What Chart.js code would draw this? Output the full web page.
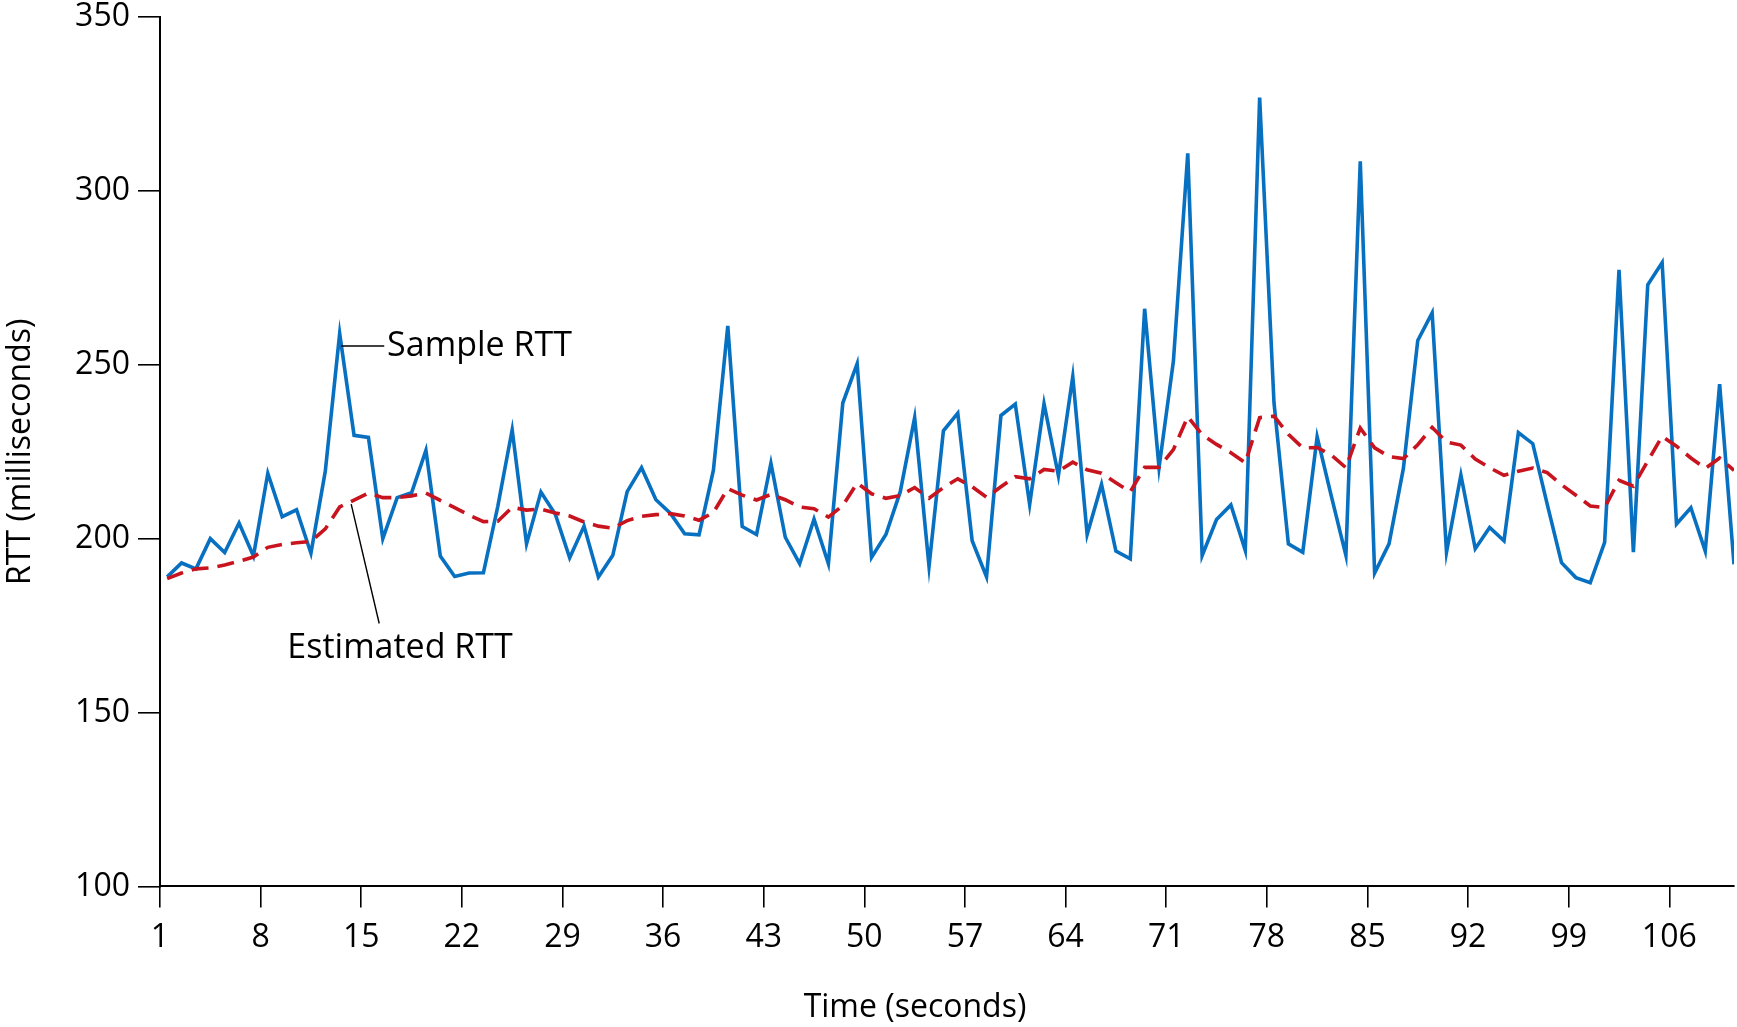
<!DOCTYPE html>
<html><head><meta charset="utf-8">
<script src="https://cdn.jsdelivr.net/npm/chart.js@4.4.1/dist/chart.umd.min.js"></script>
<style>html,body{margin:0;padding:0;background:#fff}#wrap{width:1737px;height:1027px;position:relative}</style>
</head><body><div id="wrap"><canvas id="c"></canvas></div>
<script>
// ---- data ----
const seconds = Array.from({length: 110}, (_, i) => i + 1);
const sampleRTT = [
  189, 193, 191.3, 200, 196, 204.5, 195, 218.8, 206.3, 208.3,
  195.8, 219.4, 259, 229.7, 229.1, 200, 211.8, 213.2, 225.4, 195,
  189.1, 190.1, 190.2, 209.3, 231.3, 198.5, 213.4, 207, 194.5, 203.6,
  189, 195.2, 213.5, 220.4, 211.2, 207.3, 201.4, 201.1, 219.7, 261.2,
  203.5, 201.2, 221.7, 200.4, 192.8, 205.6, 192.8, 239, 250.3, 194.6,
  201.2, 213.5, 234.8, 192, 231, 236.1, 199.4, 189, 235.4, 238.7,
  209.8, 238.8, 218.1, 246.6, 201.2, 215.6, 196.4, 194.2, 266.1, 220.4,
  251, 310.8, 195.1, 205.5, 209.7, 196.6, 326.8, 239, 198.5, 196.1,
  229.3, 212, 195.2, 308.5, 190.1, 198.5, 220.2, 257, 264.9, 196.1,
  218.3, 197.1, 203.2, 199.4, 230.5, 227.3, 210, 193.1, 188.8, 187.3,
  198.9, 277.3, 196.1, 273, 279.4, 204.2, 208.9, 196.4, 244.4, 192.6
];
const estimatedRTT = [
  188.5, 190.1, 191.3, 191.6, 192.4, 193.5, 194.7, 197.5, 198.3, 198.8,
  199.2, 202.8, 209.1, 211.1, 213.1, 211.8, 211.8, 212.3, 213.1, 211.0,
  208.9, 206.8, 204.9, 205, 209, 208.2, 208.5, 207.4, 206.5, 204.8,
  203.6, 203, 205.2, 206.4, 206.9, 207.2, 206.5, 205.3, 207.5, 214.4,
  212.5, 211.1, 212.7, 211.2, 209.1, 208.6, 206.2, 209.5, 216, 212.9,
  211.6, 212.4, 214.7, 211.6, 214.7, 217.2, 214.9, 211.9, 214.9, 217.8,
  217.2, 219.9, 219.4, 222, 219.8, 218.8, 216.1, 213.5, 220.5, 220.5,
  225.6, 235.1, 229.9, 227.1, 224.7, 221.8, 234.8, 235.2, 230, 226.1,
  226.2, 224, 220.4, 231.8, 226.1, 223.6, 223, 227, 232, 227.8,
  226.9, 222.9, 220.4, 218.2, 219.4, 220.3, 219, 215.5, 212.5, 209.4,
  208.9, 216.8, 215.1, 222.3, 229.4, 226.6, 223.2, 220.2, 223.2, 219.6
];
const xTickLabels = [1, 8, 15, 22, 29, 36, 43, 50, 57, 64, 71, 78, 85, 92, 99, 106];
const yTickLabels = [100, 150, 200, 250, 300, 350];
const seriesNames = ['Sample RTT', 'Estimated RTT'];
const xTitle = 'Time (seconds)';
const yTitle = 'RTT (milliseconds)';

// ---- styling / layout ----
const FONT = "'Open Sans', 'Noto Sans', sans-serif";
const axisFont = {family: FONT, size: 32, lineHeight: 1.0};
const annoFont = "34px " + FONT;

const toPoints = vals => vals.map((v, i) => ({x: seconds[i] + 0.5, y: v}));

const annotations = {
  id: 'annotations',
  afterDraw(chart) {
    const {ctx, scales: {x, y}} = chart;
    ctx.save();
    ctx.fillStyle = '#000';
    ctx.strokeStyle = '#000';
    ctx.lineWidth = 1.4;
    // Sample RTT leader + label
    ctx.beginPath();
    ctx.moveTo(x.getPixelForValue(13.6), y.getPixelForValue(255.4));
    ctx.lineTo(x.getPixelForValue(16.6), y.getPixelForValue(255.4));
    ctx.stroke();
    ctx.font = annoFont;
    ctx.textAlign = 'left';
    ctx.textBaseline = 'middle';
    ctx.fillText(seriesNames[0], x.getPixelForValue(16.8), y.getPixelForValue(255.4));
    // Estimated RTT leader + label
    ctx.beginPath();
    ctx.moveTo(x.getPixelForValue(14.3), y.getPixelForValue(209.9));
    ctx.lineTo(x.getPixelForValue(16.25), y.getPixelForValue(175.6));
    ctx.stroke();
    ctx.textAlign = 'center';
    ctx.fillText(seriesNames[1], x.getPixelForValue(17.7), y.getPixelForValue(168.4));
    // x-axis title
    ctx.font = "32px " + FONT;
    ctx.textAlign = 'center';
    ctx.fillText(xTitle, 915, 1008);
    ctx.restore();
  }
};

new Chart(document.getElementById('c'), {
  type: 'line',
  data: {
    datasets: [
      {
        label: seriesNames[1],
        data: toPoints(estimatedRTT),
        borderColor: '#C8141E',
        borderWidth: 3.6,
        borderDash: [17, 9],
        pointRadius: 0,
        tension: 0,
        fill: false
      },
      {
        label: seriesNames[0],
        data: toPoints(sampleRTT),
        borderColor: '#0870C0',
        borderWidth: 3.6,
        pointRadius: 0,
        tension: 0,
        fill: false
      }
    ]
  },
  options: {
    responsive: true,
    maintainAspectRatio: false,
    animation: false,
    devicePixelRatio: 1,
    layout: {padding: {top: 17, right: 3, bottom: 0, left: 0}},
    plugins: {legend: {display: false}, tooltip: {enabled: false}},
    scales: {
      x: {
        type: 'linear',
        min: 1,
        max: 110.5,
        afterBuildTicks: s => { s.ticks = xTickLabels.map(v => ({value: v})); },
        afterFit: s => { s.height = 140.6; s.paddingLeft = 0; s.paddingRight = 0; },
        grid: {drawOnChartArea: false, drawTicks: true, tickLength: 21, color: '#000', lineWidth: 1.6},
        border: {display: true, color: '#000', width: 2},
        ticks: {font: axisFont, color: '#000', padding: 14, maxRotation: 0, autoSkip: false, callback: v => String(v)}
      },
      y: {
        type: 'linear',
        min: 100,
        max: 350,
        afterBuildTicks: s => { s.ticks = yTickLabels.map(v => ({value: v})); },
        afterFit: s => { s.width = 160; s.paddingTop = 0; s.paddingBottom = 0; },
        grid: {drawOnChartArea: false, drawTicks: true, tickLength: 22, color: '#000', lineWidth: 1.6},
        border: {display: true, color: '#000', width: 2},
        ticks: {font: axisFont, color: '#000', padding: 8, callback: v => String(v)},
        title: {display: true, text: yTitle, color: '#000', font: {family: FONT, size: 32, lineHeight: 1.2}, padding: {top: 2, bottom: 0}}
      }
    }
  },
  plugins: [annotations]
});
</script>
</body></html>
